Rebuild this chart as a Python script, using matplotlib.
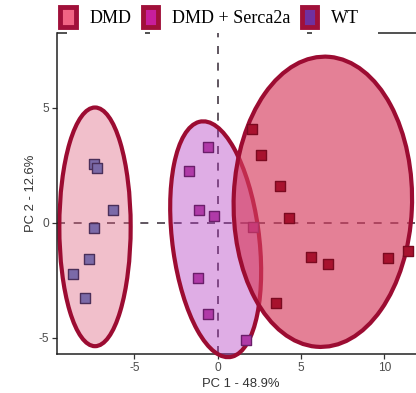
import numpy as np
import matplotlib
matplotlib.use("Agg")
import matplotlib.pyplot as plt
from matplotlib.patches import Ellipse, Patch

plt.rcParams["axes.unicode_minus"] = False

# PCA scores
groups = ["DMD", "DMD + Serca2a", "WT"]

wt_pc1 = [-7.42, -7.24, -6.26, -7.42, -7.72, -8.66, -7.98]
wt_pc2 = [2.57, 2.36, 0.57, -0.23, -1.56, -2.24, -3.27]

serca_pc1 = [-0.58, -1.70, -1.10, -0.22, 2.14, -1.18, -0.60, 1.72]
serca_pc2 = [3.28, 2.27, 0.57, 0.31, -0.20, -2.40, -3.97, -5.11]

dmd_pc1 = [2.04, 2.60, 3.72, 4.30, 5.58, 6.62, 3.52, 10.22, 11.40]
dmd_pc2 = [4.07, 2.93, 1.59, 0.20, -1.50, -1.80, -3.51, -1.54, -1.23]

# confidence ellipses: centre x, centre y, width, height, angle (deg)
wt_ell = [-7.36, -0.18, 4.28, 10.38, 0.0]
serca_ell = [-0.12, -0.72, 5.18, 10.40, 11.0]
dmd_ell = [6.31, 0.91, 10.70, 12.63, -3.7]

x_ticks = [-5, 0, 5, 10]
y_ticks = [-5, 0, 5]

edge = "#9c0c32"

fig = plt.figure(figsize=(4.16, 3.93), dpi=100)
ax = fig.add_axes([57 / 416, 1 - 354 / 393, 367 / 416, 321 / 393])
ax.set_xlim(-9.64, 12.38)
ax.set_ylim(-5.71, 8.25)

dash_kw = dict(color="#463a46", lw=1.2, ls=(0, (4.8, 5.2)), zorder=1)
ax.axhline(0, **dash_kw)
ax.axvline(0, **dash_kw)


def draw_group(ell, xs, ys, fill, alpha, pt_fill, pt_edge, z):
    cx, cy, w, h, ang = ell
    ax.add_patch(Ellipse((cx, cy), w, h, angle=ang, facecolor=fill,
                         alpha=alpha, edgecolor="none", zorder=z, clip_on=False))
    ax.add_patch(Ellipse((cx, cy), w, h, angle=ang, facecolor="none",
                         edgecolor=edge, lw=3, zorder=z + 0.1, clip_on=False))
    ax.scatter(xs, ys, marker="s", s=62, facecolor=pt_fill,
               edgecolor=pt_edge, linewidths=1.0, zorder=z + 0.2, clip_on=False)


draw_group(wt_ell, wt_pc1, wt_pc2, "#de5f7d", 0.4, "#7b6aa8", "#4a2f5a", 2)
draw_group(serca_ell, serca_pc1, serca_pc2, "#b134c0", 0.4, "#b03aa8", "#6a1e6a", 3)
draw_group(dmd_ell, dmd_pc1, dmd_pc2, "#d63c5e", 0.65, "#a8122e", "#7a0a20", 4)

for side in ["top", "right"]:
    ax.spines[side].set_visible(False)
for side in ["left", "bottom"]:
    ax.spines[side].set_linewidth(1.1)
    ax.spines[side].set_color("#222222")

# pieces of the top border that show around the legend
for a, b in [(0, 0.027), (0.240, 0.253), (0.681, 0.695), (0.875, 1.0)]:
    ax.plot([a, b], [1, 1], color="#222222", lw=1.1, transform=ax.transAxes,
            clip_on=False, solid_capstyle="butt", zorder=10)

ax.set_xticks(x_ticks)
ax.set_yticks(y_ticks)
ax.tick_params(length=3.5, width=0.9, color="#333333", labelcolor="#4d4d4d",
               labelsize=8.6, pad=2)
for lab in ax.get_xticklabels() + ax.get_yticklabels():
    lab.set_family("Liberation Sans")

ax.set_xlabel("PC 1 - 48.9%", fontsize=9.4, color="#333333",
              family="Liberation Sans", labelpad=3)
ax.set_ylabel("PC 2 - 12.6%", fontsize=9.4, color="#333333",
              family="Liberation Sans", labelpad=1)

key_fill = ["#f06484", "#c81e9c", "#7030a0"]
handles = [Patch(facecolor=c, edgecolor="#a0103a", linewidth=3.5,
                 joinstyle="round", label=g) for g, c in zip(groups, key_fill)]
fig.legend(handles=handles, loc="center", bbox_to_anchor=(0.504, 1 - 17 / 393),
           ncol=3, frameon=False, handlelength=0.85, handleheight=1.3,
           handletextpad=0.75, columnspacing=0.65,
           prop={"family": "Liberation Serif", "size": 13})

fig.savefig("out.png", dpi=100)
